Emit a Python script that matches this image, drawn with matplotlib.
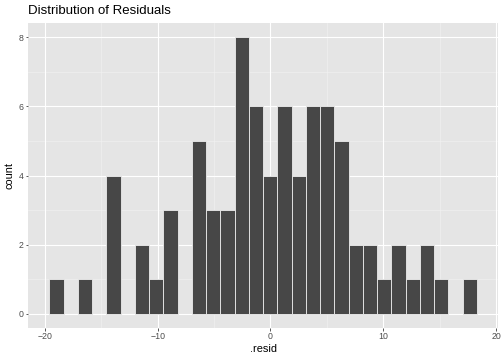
import numpy as np
import matplotlib
matplotlib.use("Agg")
import matplotlib.pyplot as plt

plt.rcParams['font.family'] = ['Liberation Sans', 'DejaVu Sans']

# histogram of residuals, 30 bins
counts = [1, 0, 1, 0, 4, 0, 2, 1, 3, 0,
          5, 3, 3, 8, 6, 4, 6, 4, 6, 6,
          5, 2, 2, 1, 2, 1, 2, 1, 0, 1]
bin_start = -19.6
bin_end = 18.3
x_ticks = [-20, -10, 0, 10, 20]
y_ticks = [0, 2, 4, 6, 8]

edges = np.linspace(bin_start, bin_end, len(counts) + 1)
width = edges[1] - edges[0]

fig = plt.figure(figsize=(7, 5), dpi=72)
ax = fig.add_axes([0.0556, 0.0897, 0.9887 - 0.0556, 0.935 - 0.0897])
ax.set_facecolor("#E5E5E5")

for v in [-15, -5, 5, 15]:
    ax.axvline(v, color="#F2F2F2", lw=0.6, zorder=0.5)
for v in [1, 3, 5, 7]:
    ax.axhline(v, color="#F2F2F2", lw=0.6, zorder=0.5)
for v in x_ticks:
    ax.axvline(v, color="white", lw=1.1, zorder=0.6)
for v in y_ticks:
    ax.axhline(v, color="white", lw=1.1, zorder=0.6)

h = np.array(counts)
mask = h > 0
ax.bar(edges[:-1][mask], h[mask], width=width, align="edge",
       color="#474747", edgecolor="#F0F0F0", linewidth=0.8, zorder=2)

span = bin_end - bin_start
ax.set_xlim(bin_start - 0.05 * span, bin_end + 0.05 * span)
ax.set_ylim(-0.4, 8.4)
ax.set_xticks(x_ticks)
ax.set_yticks(y_ticks)
ax.tick_params(colors="#333333", labelsize=8.8, length=2.5, width=0.8,
               labelcolor="#4D4D4D", pad=2)
for s in ax.spines.values():
    s.set_visible(False)

ax.set_xlabel(".resid", fontsize=11, color="black", labelpad=3)
ax.set_ylabel("count", fontsize=11, color="black", labelpad=4)
fig.text(0.0556, 0.953, "Distribution of Residuals", fontsize=13.2,
         color="black", ha="left", va="bottom")

fig.savefig("out.png", dpi=72)
